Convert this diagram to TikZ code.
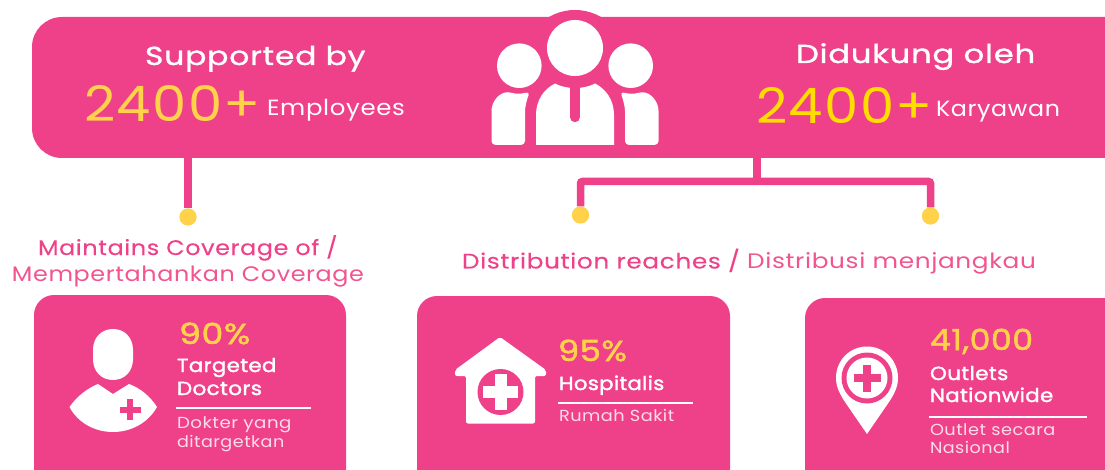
\documentclass[tikz,border=0pt]{standalone}
\usepackage{fontspec}
\setmainfont{Poppins}
\definecolor{pk}{HTML}{EF4189}
\definecolor{pl}{HTML}{F1548F}
\definecolor{yl}{HTML}{FFD24A}
\definecolor{yb}{HTML}{FFDD00}
\definecolor{lp}{HTML}{FCDCE9}
% size, stretch, letter spacing, fake bold
\newcommand{\tf}[4]{\fontsize{#1}{#1}\selectfont\addfontfeatures{FakeStretch=#2,LetterSpace=#3,FakeBold=#4}}
\tikzset{
 txt/.style={anchor=base west,inner sep=0pt,outer sep=0pt},
 card/.style={fill=pk,rounded corners=20pt},
 conn/.style={draw=pk,line width=7.5pt,rounded corners=2pt},
 dot/.style={circle,fill=yl,minimum size=17pt,inner sep=0pt},
 wf/.style={fill=white},
 pf/.style={fill=pk},
 rule/.style={draw=white,line width=1.6pt}
}
\begin{document}
\begin{tikzpicture}[x=1pt,y=-1pt]
\useasboundingbox (0,0) rectangle (1105,470);
\clip (0,0) rectangle (1105,470);
% top bar
\fill[pk,rounded corners=30pt] (32,17) rectangle (1135,158);
\fill[pk] (575,62) circle (52);
% dots and connectors
\coordinate (j) at (757,150);
\coordinate (t1) at (188,150);
\coordinate (h1) at (580.5,181.5);
\coordinate (h2) at (930.5,181.5);
\node[dot] (d1) at (188,217) {};
\node[dot] (d2) at (580.5,215) {};
\node[dot] (d3) at (930.5,216) {};
\draw[conn] (t1) -- (d1.north);
\draw[conn] (d2.north) -- (h1) -- (h2) -- (d3.north);
\draw[conn] (j) -- (j |- h1);
\node[dot] at (d1) {};
\node[dot] at (d2) {};
\node[dot] at (d3) {};
% people icon
\fill[wf] (575,48) circle (28);
\fill[wf] (519.3,65.7) circle (22.3);
\fill[wf] (630.7,65.7) circle (22.3);
\fill[wf] (536,145) -- (536,115) .. controls (536,100) and (544,89) .. (555,83.5) .. controls (562,87) and (568,88) .. (575,88) .. controls (582,88) and (588,87) .. (595,83.5) .. controls (606,89) and (614,100) .. (614,115) -- (614,145) -- cycle;
\draw[pk,line width=10.5pt,line cap=round] (575,84) -- (575,117);
\fill[wf,rounded corners=4pt] (525,145) -- (491.5,145) -- (491.5,115) .. controls (491.5,103) and (497,95) .. (508,91.5) .. controls (515,94) and (522,94) .. (530,91.5) .. controls (527,99) and (525,107) .. (525,115) -- cycle;
\fill[wf,rounded corners=4pt] (625,145) -- (658.5,145) -- (658.5,115) .. controls (658.5,103) and (653,95) .. (642,91.5) .. controls (635,94) and (628,94) .. (620,91.5) .. controls (623,99) and (625,107) .. (625,115) -- cycle;
% top text
\node[txt,text=white,font=\tf{26}{1.21}{3}{1.2}] (a1) at (145,65) {Supported by};
\node[txt,text=yl,font=\tf{49}{1.11}{3}{0}] (a2) at (84,121.5) {2400+};
\node[txt,text=white,font=\tf{22}{1.11}{3}{0}] (a3) at (267,116) {Employees};
\node[txt,text=white,font=\tf{26}{1.24}{3}{1.2}] (b1) at (796,63) {Didukung oleh};
\node[txt,text=yb,font=\tf{49}{1.11}{3}{0}] (b2) at (756,123.5) {2400+};
\node[txt,text=white,font=\tf{22}{1.08}{3}{0}] (b3) at (936,117) {Karyawan};
% mid labels
\node[txt,text=pk,font=\tf{21}{1.136}{3}{0.15}] (m1) at (38,255) {Maintains Coverage of /};
\node[txt,text=pl,font=\tf{21}{1.135}{3}{0}] (m2) at (12,281) {Mempertahankan Coverage};
\node[txt,text=pk,font=\tf{21}{1.18}{3}{0.15}] (m3) at (462,268.5) {Distribution reaches / \textcolor{pl}{\addfontfeatures{FakeBold=0}Distribusi menjangkau}};
% cards
\fill[card] (34,295) rectangle (346,490);
\fill[card] (417,296) rectangle (730,490);
\fill[card] (805,298) rectangle (1135,490);
% doctor icon
\fill[wf] (113,329) .. controls (101,329) and (93,338) .. (93,350) -- (93,359) .. controls (93,371) and (101,380) .. (113,380) .. controls (125,380) and (133,371) .. (133,359) -- (133,350) .. controls (133,338) and (125,329) .. (113,329) -- cycle;
\fill[wf] (69.5,407) .. controls (77,396) and (88,388) .. (98,384) -- (113,394) -- (129,384) .. controls (140,388) and (150,396) .. (157,407) .. controls (148,423) and (131,432) .. (113,432) .. controls (95,432) and (78,423) .. (69.5,407) -- cycle;
\draw[pk,line width=6pt] (130,399) -- (130,420) (120,409.5) -- (141,409.5);
% hospital icon
\fill[wf,rounded corners=2pt] (500,337) -- (546,370) -- (546,376) -- (535,376) -- (535,423.5) -- (466,423.5) -- (466,376) -- (455,376) -- (455,370) -- cycle;
\fill[pf] (500.5,392) circle (23);
\draw[white,line width=12pt] (500.5,374) -- (500.5,410) (483,392) -- (518,392);
% pin icon
\fill[wf] (867,434) -- (845,402) .. controls (839,393) and (836,386) .. (836,378) .. controls (836,360) and (850,346.5) .. (867,346.5) .. controls (884,346.5) and (898,360) .. (898,378) .. controls (898,386) and (895,393) .. (889,402) -- cycle;
\fill[pf] (867,378) circle (25.5);
\fill[wf] (867,378) circle (20.5);
\draw[pk,line width=7.5pt] (867,364.5) -- (867,391.5) (853.5,378) -- (880.5,378);
% card 1 text
\node[txt,text=yl,font=\tf{29}{1.2}{2}{1.8}] (c1) at (179,344) {90\%};
\node[txt,text=white,font=\tf{19}{1.12}{2}{1.8}] (c2) at (177,372) {Targeted};
\node[txt,text=white,font=\tf{19}{1.13}{2}{1.8}] (c3) at (177,395) {Doctors};
\coordinate (r1a) at (176,408); \coordinate (r1b) at (311,408);
\draw[rule] (r1a) -- (r1b);
\node[txt,text=lp,font=\tf{16}{1.14}{3}{0}] (c4) at (177,428) {Dokter yang};
\node[txt,text=lp,font=\tf{16}{1.10}{3}{0}] (c5) at (177,447) {ditargetkan};
% card 2 text
\node[txt,text=yl,font=\tf{29}{1.16}{2}{1.8}] (e1) at (558,361) {95\%};
\node[txt,text=white,font=\tf{19}{1.11}{2}{1.8}] (e2) at (559,390) {Hospitalis};
\coordinate (r2a) at (558,403); \coordinate (r2b) at (693,403);
\draw[rule] (r2a) -- (r2b);
\node[txt,text=lp,font=\tf{16}{1.11}{3}{0}] (e3) at (559,421) {Rumah Sakit};
% card 3 text
\node[txt,text=yl,font=\tf{29}{1.14}{2}{1.8}] (f1) at (930,350) {41,000};
\node[txt,text=white,font=\tf{19}{1.13}{2}{1.8}] (f2) at (930,380) {Outlets};
\node[txt,text=white,font=\tf{19}{1.12}{2}{1.8}] (f3) at (930,402) {Nationwide};
\coordinate (r3a) at (929,417); \coordinate (r3b) at (1087,417);
\draw[rule] (r3a) -- (r3b);
\node[txt,text=lp,font=\tf{16}{1.11}{3}{0}] (f4) at (930,435) {Outlet secara};
\node[txt,text=lp,font=\tf{16}{1.10}{3}{0}] (f5) at (930,453) {Nasional};
\end{tikzpicture}
\end{document}
